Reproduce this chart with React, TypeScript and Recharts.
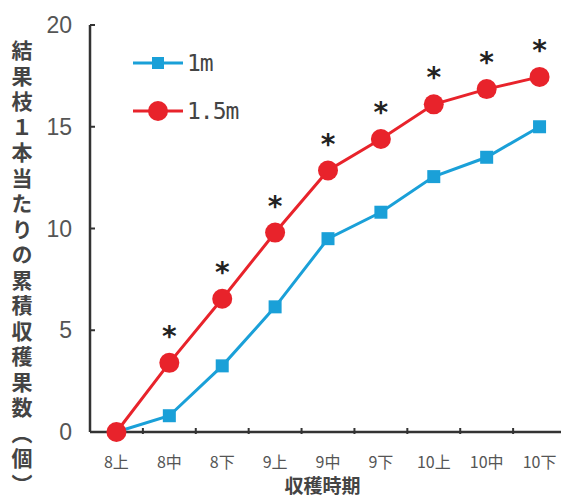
import React from 'react';
import { LineChart, Line, XAxis, YAxis } from 'recharts';

const periods = ['8上', '8中', '8下', '9上', '9中', '9下', '10上', '10中', '10下'];
const oneM = [0, 0.8, 3.25, 6.15, 9.5, 10.8, 12.55, 13.5, 15.0];
const onePointFiveM = [0, 3.4, 6.55, 9.8, 12.85, 14.4, 16.1, 16.85, 17.45];
const signif = ['', '*', '*', '*', '*', '*', '*', '*', '*'];
const yTicks = [0, 5, 10, 15, 20];
const seriesNames = ['1m', '1.5m'];

const data = periods.map((p, i) => ({ period: p, m1: oneM[i], m15: onePointFiveM[i], sig: signif[i] }));

const W = 576;
const H = 499;
const X_AXIS_H = 30;
const M = { top: 25, right: 10, bottom: 67 - X_AXIS_H, left: 0 };
const AXIS_W = 90;
const plotW = W - M.left - M.right - AXIS_W;
const halfBand = plotW / periods.length / 2;

const BLUE = '#1aa0d8';
const RED = '#e8232b';
const INK = '#333';

const YTick = (props: any) => {
  const { x, y, payload } = props;
  return (
    <g>
      <line x1={AXIS_W} x2={AXIS_W + 5} y1={y} y2={y} stroke={INK} strokeWidth={2} />
      <text x={x} y={y} textAnchor="end" dominantBaseline="central" fontSize={23}
        fontFamily="'Liberation Sans Narrow', 'Liberation Sans', Arial" fill="#555">
        {payload.value}
      </text>
    </g>
  );
};

const XTick = (props: any) => {
  const { x, y, payload, index } = props;
  const tx = x + halfBand;
  return (
    <g>
      {index < periods.length - 1 && (
        <line x1={tx} x2={tx} y1={y} y2={y - 6} stroke={INK} strokeWidth={2} />
      )}
      <text x={x} y={y + 34} textAnchor="middle" fontSize={16} fontFamily="'Noto Sans CJK JP', sans-serif" fill="#555">
        {payload.value}
      </text>
    </g>
  );
};

const Star = (props: any) => {
  const { x, y, index } = props;
  if (!signif[index]) return null;
  return (
    <text x={x} y={y - 17} textAnchor="middle" fontSize={28} fontWeight="bold" fontFamily="'DejaVu Sans'" fill="#222">
      {signif[index]}
    </text>
  );
};

const LegendBox = () => (
  <div style={{ position: 'absolute', left: 133, top: 39, fontFamily: "'DejaVu Sans Mono', monospace", fontSize: 23, color: '#444' }}>
    {[
      { label: seriesNames[0], color: BLUE, shape: 'square' },
      { label: seriesNames[1], color: RED, shape: 'circle' },
    ].map((it) => (
      <div key={it.label} style={{ display: 'flex', alignItems: 'center', height: 48 }}>
        <svg width={54} height={24}>
          <line x1={0} x2={50} y1={12} y2={12} stroke={it.color} strokeWidth={3} />
          {it.shape === 'square' ? (
            <rect x={19} y={6} width={12} height={12} fill={it.color} />
          ) : (
            <circle cx={25} cy={12} r={10} fill={it.color} />
          )}
        </svg>
        <span style={{ letterSpacing: -1 }}>{it.label}</span>
      </div>
    ))}
  </div>
);

const YTitle = () => (
  <text x={22} y={40} fontSize={21} fontFamily="'Noto Sans CJK JP', sans-serif" fontWeight="bold"
    fill="#444" style={{ writingMode: 'vertical-rl', letterSpacing: 4.5 }}>
    結果枝１本当たりの累積収穫果数（個）
  </text>
);

export default function App() {
  return (
    <div style={{ position: 'absolute', left: 0, top: 0, width: 561, height: 499, overflow: 'hidden', background: '#fff' }}>
      <LineChart width={W} height={H} data={data} margin={M}>
        <XAxis dataKey="period" scale="band" height={X_AXIS_H} axisLine={{ stroke: INK, strokeWidth: 2.5 }} tickLine={false}
          tickSize={0} tick={<XTick />} interval={0} />
        <YAxis domain={[0, 20]} ticks={yTicks} width={AXIS_W} axisLine={{ stroke: INK, strokeWidth: 2.5 }}
          tickLine={false} tickSize={0} tickMargin={18} tick={<YTick />} />
        <Line dataKey="m1" name={seriesNames[0]} stroke={BLUE} strokeWidth={3} isAnimationActive={false}
          dot={(p: any) => <rect key={p.index} x={p.cx - 6.5} y={p.cy - 6.5} width={13} height={13} fill={BLUE} />} />
        <Line dataKey="m15" name={seriesNames[1]} stroke={RED} strokeWidth={3} isAnimationActive={false}
          dot={(p: any) => <circle key={p.index} cx={p.cx} cy={p.cy} r={10} fill={RED} />} label={<Star />} />
        <YTitle />
      </LineChart>
      <LegendBox />
      <div style={{ position: 'absolute', left: 84, right: 0, top: 475, lineHeight: '20px', textAlign: 'center',
        fontFamily: "'Noto Sans CJK JP', sans-serif", fontWeight: 'bold', fontSize: 19, color: '#444' }}>
        収穫時期
      </div>
    </div>
  );
}
